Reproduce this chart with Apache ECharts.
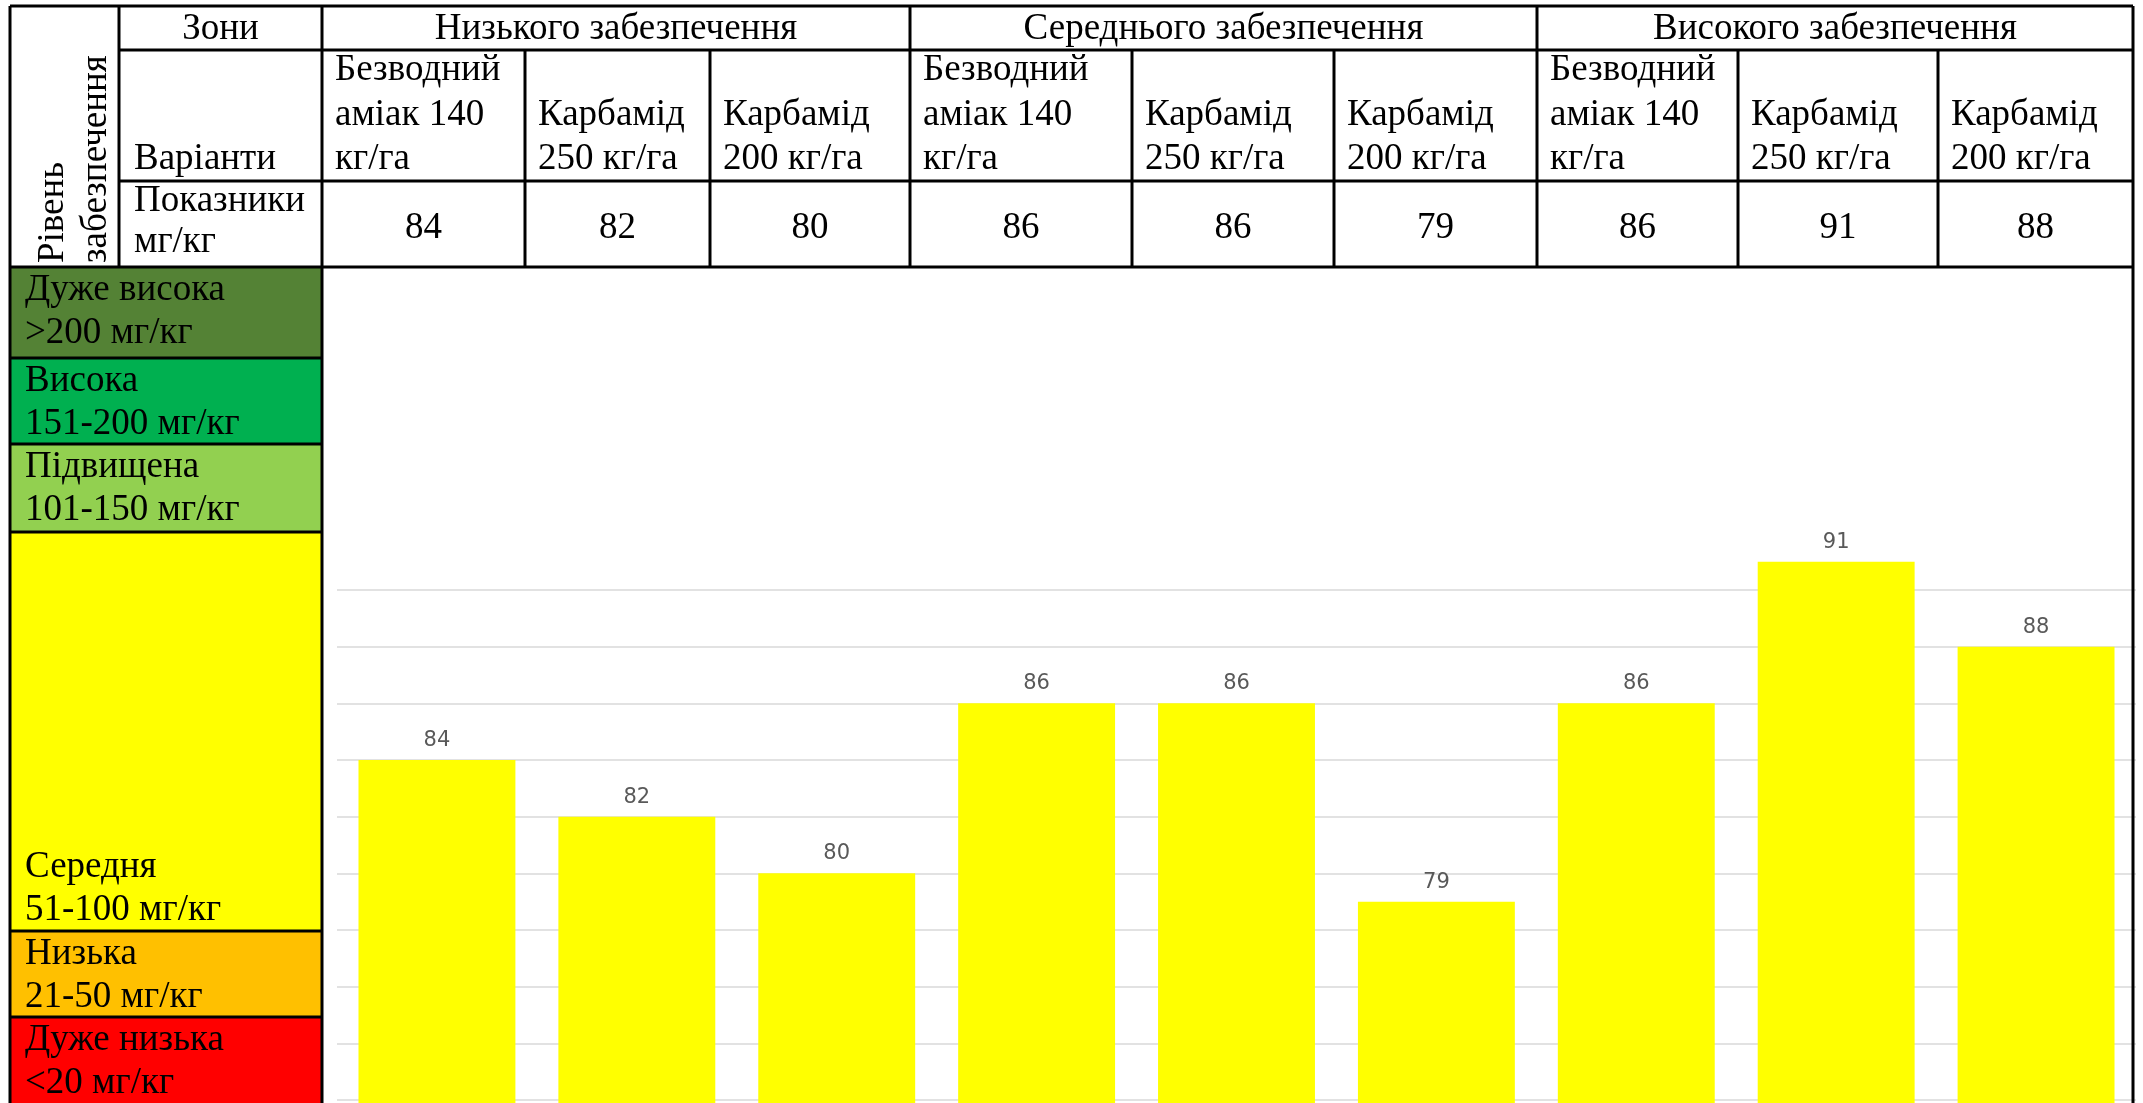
<!DOCTYPE html>
<html>
<head>
<meta charset="utf-8">
<script src="https://cdn.jsdelivr.net/npm/echarts@6/dist/echarts.min.js"></script>
<style>
  html, body { margin: 0; padding: 0; background: #ffffff; }
  #chart { width: 2143px; height: 1103px; }
</style>
</head>
<body>
<div id="chart"></div>
<script>
// Zones and fertiliser variants (header of the table)
const zones = ['Низького забезпечення', 'Середнього забезпечення', 'Високого забезпечення'];
const variants = ['Безводний\nаміак 140\nкг/га', 'Карбамід\n250 кг/га', 'Карбамід\n200 кг/га'];

// Indicator, mg/kg, for each zone × variant
const values = [84, 82, 80, 86, 86, 79, 86, 91, 88];

// Supply levels (left column), top to bottom
const levelNames = ['Дуже висока', 'Висока', 'Підвищена', 'Середня', 'Низька', 'Дуже низька'];
const levelRanges = ['>200 мг/кг', '151-200 мг/кг', '101-150 мг/кг', '51-100 мг/кг', '21-50 мг/кг', '<20 мг/кг'];
const levelColors = ['#548235', '#00b050', '#92d050', '#ffff00', '#ffc000', '#ff0000'];

// Header captions
const cornerTitle = 'Рівень\nзабезпечення';
const zonesTitle = 'Зони';
const variantsTitle = 'Варіанти';
const valuesTitle = 'Показники\nмг/кг';

// Value axis range
const yMin = 72, yMax = 90, yStep = 2;

// ---- layout of the table and the level column ----
const colX = [10, 119, 322, 525, 710, 910, 1132, 1334, 1537, 1738, 1938, 2133];
const rowY = [6, 50, 181, 267];
const bandY = [267, 358, 444, 532, 931, 1017, 1103];
const SERIF = '37px "Liberation Serif", "Times New Roman", serif';
const LH = 43;
const LINE_W = 3;

const categories = [];
zones.forEach(z => variants.forEach(v => categories.push(z + ' — ' + v.replace(/\n/g, ' '))));

function txt(text, x, y, align, vAlign, extra, lh) {
  return Object.assign({
    type: 'text', x: x, y: y, z: 100, silent: true,
    style: {
      text: text, fill: '#000', font: SERIF, lineHeight: lh || LH,
      align: align, textAlign: align,
      verticalAlign: vAlign, textVerticalAlign: vAlign
    }
  }, extra || {});
}
function line(x1, y1, x2, y2) {
  return {
    type: 'line', z: 110, silent: true,
    shape: { x1: x1, y1: y1, x2: x2, y2: y2 },
    style: { stroke: '#000', lineWidth: LINE_W }
  };
}

const g = [];

// level bands
levelNames.forEach((name, i) => {
  g.push({
    type: 'rect', z: 90, silent: true,
    shape: { x: colX[0], y: bandY[i], width: colX[2] - colX[0], height: bandY[i + 1] - bandY[i] },
    style: { fill: levelColors[i] }
  });
  const label = name + '\n' + levelRanges[i];
  if (name === 'Середня') {
    g.push(txt(label, 25, bandY[i + 1] + 1, 'left', 'bottom'));
  } else {
    g.push(txt(label, 25, bandY[i] + 2, 'left', 'top'));
  }
});

// header texts
g.push(txt(cornerTitle, 118, 263, 'left', 'bottom', { rotation: Math.PI / 2 }));
g.push(txt(zonesTitle, (colX[1] + colX[2]) / 2, (rowY[0] + rowY[1]) / 2 + 1, 'center', 'middle'));
g.push(txt(variantsTitle, colX[1] + 15, rowY[2] + 1, 'left', 'bottom', null, 44.5));
g.push(txt(valuesTitle, colX[1] + 15, rowY[2], 'left', 'top', null, 41));

zones.forEach((z, zi) => {
  const x0 = colX[2 + zi * 3], x1 = colX[5 + zi * 3];
  g.push(txt(z, (x0 + x1) / 2, (rowY[0] + rowY[1]) / 2 + 1, 'center', 'middle'));
  variants.forEach((v, vi) => {
    const c = 2 + zi * 3 + vi;
    g.push(txt(v, colX[c] + 13, rowY[2] + 1, 'left', 'bottom', null, 44.5));
    g.push(txt(String(values[zi * 3 + vi]), (colX[c] + colX[c + 1]) / 2, (rowY[2] + rowY[3]) / 2 + 4, 'center', 'middle'));
  });
});

// grid lines of the table
g.push(line(colX[0], rowY[0], colX[11], rowY[0]));
g.push(line(colX[1], rowY[1], colX[11], rowY[1]));
g.push(line(colX[1], rowY[2], colX[11], rowY[2]));
g.push(line(colX[0], rowY[3], colX[11], rowY[3]));
g.push(line(colX[0], rowY[0], colX[0], 1103));
g.push(line(colX[1], rowY[0], colX[1], rowY[3]));
g.push(line(colX[2], rowY[0], colX[2], 1103));
g.push(line(colX[11], rowY[0], colX[11], 1103));
[5, 8].forEach(c => g.push(line(colX[c], rowY[0], colX[c], rowY[3])));
[3, 4, 6, 7, 9, 10].forEach(c => g.push(line(colX[c], rowY[1], colX[c], rowY[3])));
for (let i = 1; i < bandY.length - 1; i++) g.push(line(colX[0], bandY[i], colX[2], bandY[i]));

const chart = echarts.init(document.getElementById('chart'), null, { renderer: 'canvas' });
chart.setOption({
  animation: false,
  backgroundColor: '#ffffff',
  grid: { left: 337, right: 7, top: 590, bottom: 3, containLabel: false },
  xAxis: {
    type: 'category', data: categories,
    axisLine: { show: false }, axisTick: { show: false }, axisLabel: { show: false },
    splitLine: { show: false }
  },
  yAxis: {
    type: 'value', min: yMin, max: yMax, interval: yStep,
    axisLine: { show: false }, axisTick: { show: false }, axisLabel: { show: false },
    splitLine: { show: true, lineStyle: { color: '#d9d9d9', width: 1.5 } }
  },
  series: [{
    type: 'bar', data: values, barCategoryGap: '21.5%', clip: false,
    itemStyle: { color: '#ffff00' },
    label: {
      show: true, position: 'top', distance: 9,
      color: '#595959', fontFamily: 'DejaVu Sans', fontSize: 21
    }
  }],
  graphic: { elements: g }
});
</script>
</body>
</html>
